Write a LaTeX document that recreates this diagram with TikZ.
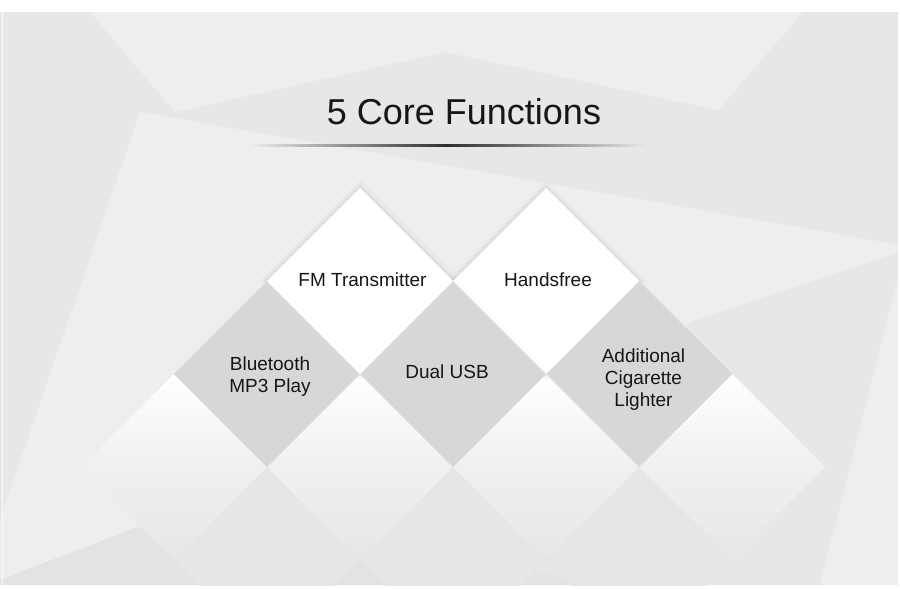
\documentclass[tikz,border=0pt]{standalone}
\usepackage{fontspec}
\setmainfont{Liberation Sans}
\definecolor{bgbase}{HTML}{E7E7E7}
\definecolor{bglight}{HTML}{EEEEEE}
\definecolor{bgdark}{HTML}{E3E3E3}
\definecolor{tile}{HTML}{D7D7D7}
\definecolor{ink}{HTML}{161616}
\newcommand\dmd[4]{\path[#4] (#2,#3-93) coordinate (#1) -- (#2+93,#3) -- (#2,#3+93) -- (#2-93,#3) -- cycle;}
\newcommand\dmdshadow[3]{%
  \fill[black,opacity=0.014] (#1,#2-93-#3) -- (#1+93+#3,#2) -- (#1,#2+93+#3) -- (#1-93-#3,#2) -- cycle;}
\tikzset{
  ttl/.style={font=\fontsize{36}{43}\selectfont, text=ink, anchor=base, inner sep=0pt},
  lbl/.style={font=\fontsize{19}{22}\selectfont, text=ink, anchor=base, inner sep=0pt, align=center},
  whitetile/.style={fill=white},
  graytile/.style={fill=tile},
  reflwhite/.style={top color=white, bottom color=bgbase, middle color=white!94!black},
  reflgray/.style={top color=black!10, bottom color=bgbase}
}
\begin{document}
\begin{tikzpicture}[x=1pt,y=-1pt]
\useasboundingbox (0,0) rectangle (900,589);
\fill[white] (0,0) rectangle (900,589);
\begin{scope}
\clip (0,12) rectangle (898,585);
\fill[bgbase] (0,12) rectangle (898,585);
% background facets
\fill[bglight] (90,12) -- (803,12) -- (718,110) -- (445,52) -- (175,112) -- cycle;
\fill[bglight] (140,112) -- (900,245) -- (900,252) -- (690,322) -- (450,553) -- (138,527) -- (0,580) -- (0,520) -- cycle;
\fill[bgdark] (0,580) -- (138,527) -- (450,553) -- (600,585) -- (0,585) -- cycle;
\fill[bglight] (900,270) -- (820,585) -- (900,585) -- cycle;
\draw[white!80!bgbase, line width=1pt] (2,12) -- (2,585);
% reflections below
\dmd{rg1}{267}{560}{reflgray}
\dmd{rg2}{453}{560}{reflgray}
\dmd{rg3}{639}{560}{reflgray}
\dmd{rw1}{174}{467}{reflwhite}
\dmd{rw2}{360}{467}{reflwhite}
\dmd{rw3}{546}{467}{reflwhite}
\dmd{rw4}{732}{467}{reflwhite}
\end{scope}
% title and rule
\node[ttl] (title) at (464,124) {5 Core Functions};
\shade[left color=bglight, right color=black!82] (250,144) rectangle (447,146.5);
\shade[left color=black!82, right color=bgbase] (447,144) rectangle (645,146.5);
% soft shadows of upper white tiles
\foreach \s in {8,5.5,3.5,2,1} {\dmdshadow{360}{281}{\s}\dmdshadow{546}{281}{\s}}
% gray tiles
\dmd{g1}{267}{374}{graytile}
\dmd{g2}{453}{374}{graytile}
\dmd{g3}{639}{374}{graytile}
% white tiles
\dmd{w1}{360}{281}{whitetile}
\dmd{w2}{546}{281}{whitetile}
% labels
\node[lbl] (fm) at (362.5,286.8) {FM Transmitter};
\node[lbl] (hf) at (548,286.8) {Handsfree};
\node[lbl] (bt) at (270,392.3) {Bluetooth\\MP3 Play};
\node[lbl] (usb) at (447,378.8) {Dual USB};
\node[lbl] (cig) at (643.5,406.8) {Additional\\Cigarette\\Lighter};
\end{tikzpicture}
\end{document}
